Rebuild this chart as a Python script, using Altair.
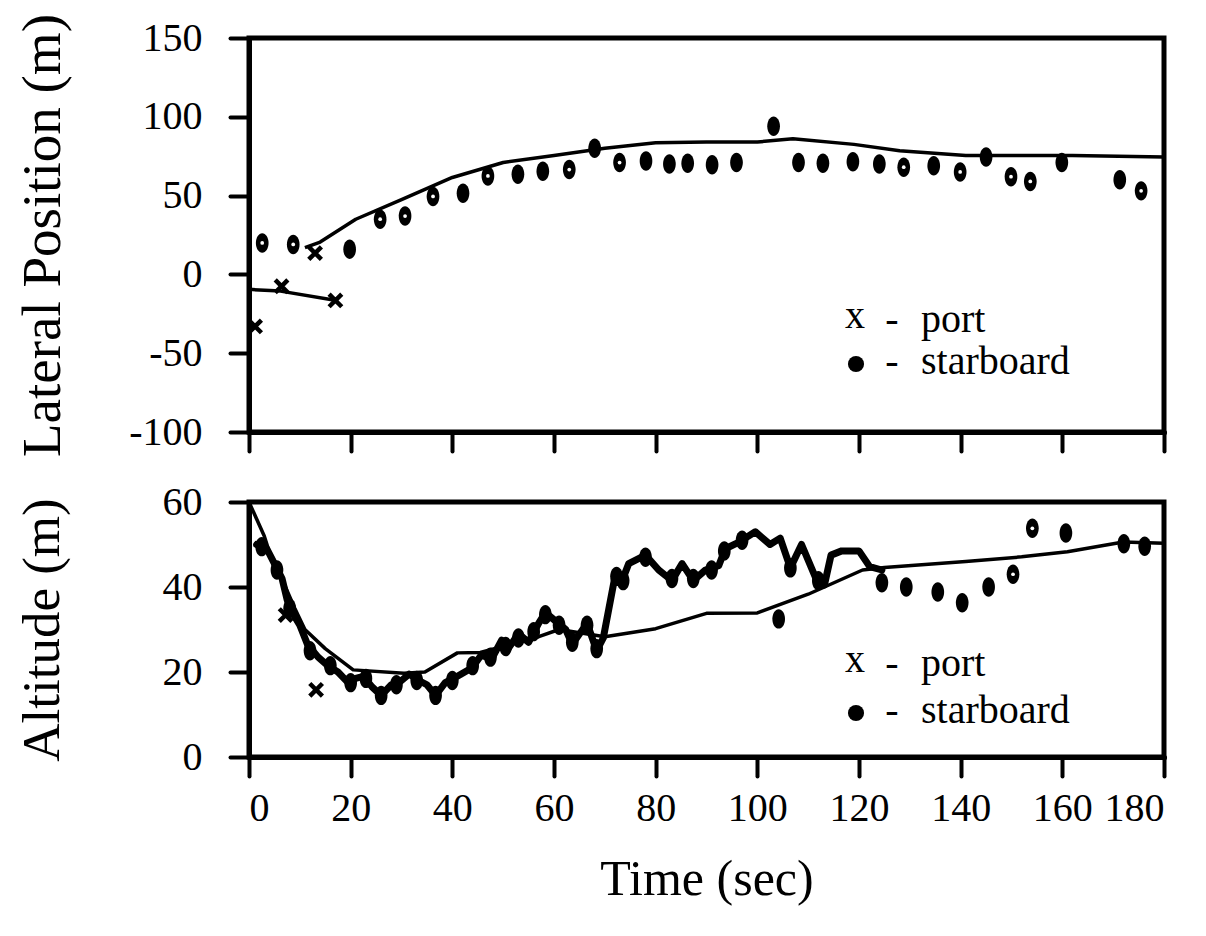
import altair as alt
import pandas as pd

FONT = "Liberation Serif"
INK = "black"

# ---------------- Lateral position (top panel) ----------------
lat_model_t = [11, 14, 21, 30, 40, 50, 60, 70, 80, 90, 100, 107, 119, 128, 141, 148, 162, 180]
lat_model_y = [17, 20.5, 35, 47.5, 61.5, 71, 75.5, 80, 83.5, 84, 84, 86, 82.5, 78.5, 75.5, 75.5, 75.5, 74.5]

lat_port_line_t = [0, 6.2, 17.5]
lat_port_line_y = [-9.5, -10.6, -16.7]

lat_port_t = [1.2, 6.4, 13, 17]
lat_port_y = [-33, -7.5, 13.5, -16.5]

lat_stbd_t = [2.6, 8.7, 19.8, 25.8, 30.7, 36.2, 42.1, 47, 52.9, 57.8, 63, 68, 72.9, 78.1,
              82.7, 86.3, 91.1, 95.9, 103.2, 108.1, 112.9, 118.8, 124, 128.8, 134.7,
              139.9, 145, 149.9, 153.7, 159.9, 171.3, 175.5]
lat_stbd_y = [20, 19, 16, 35, 37, 49.5, 51.5, 62.5, 63.5, 65.5, 66.5, 80, 71, 72,
              70, 70.5, 69.5, 71, 94, 71, 70.5, 71.5, 70, 68, 69,
              65, 74.5, 62, 59, 71, 60, 53]
lat_stbd_open = [1, 1, 0, 1, 1, 1, 0, 1, 0, 0, 1, 0, 1, 0,
                 0, 0, 0, 0, 0, 0, 0, 0, 0, 1, 0,
                 1, 0, 1, 1, 0, 0, 1]

# ---------------- Altitude (bottom panel) ----------------
alt_model_t = [0, 3, 5, 7, 9, 11, 15, 20.5, 30.5, 34.6, 41, 45.5, 57, 61, 70, 80, 90, 100,
               110, 120.7, 125, 141, 152, 161, 172, 180]
alt_model_y = [60, 52, 44.5, 40.5, 35, 30, 25.5, 20.5, 19.7, 20, 24.5, 24.6, 28.3, 30, 28.3,
               30.2, 33.8, 33.9, 38.3, 44, 44.6, 46, 47.1, 48.3, 50.6, 50.3]

alt_track_t = [1.5, 3.5, 5, 6.5, 7.5, 8.5, 10, 11.5, 13.6, 15.5, 17.5, 19.5, 21, 22.5, 24.2,
               26, 28, 29.5, 31.5, 33.4, 35, 36.7, 38.6, 41, 43.9, 45.7, 47.7, 49.7, 51, 53,
               55, 57, 58.3, 60.3, 62.3, 63.6, 66.5, 68.4, 69.7, 72, 73.4, 74.7, 78, 80.6,
               83.2, 85.2, 87.4, 89.8, 92.4, 93.7, 96.3, 99.6, 102.5, 104.5, 106.5, 108.7,
               111.7, 113.2, 114.5, 116.6, 120, 122.1, 124.5]
alt_track_y = [50, 49, 45.5, 42, 37, 34, 31, 26.5, 23.5, 21.5, 20, 17.5, 18.5, 19, 16.5,
               14.5, 17, 17.5, 19.5, 18, 17, 14.5, 17.5, 19, 21, 24, 23, 27.5, 25.5, 29,
               27, 31.5, 34, 32, 30, 26.5, 31.5, 25, 28, 42.5, 41.5, 45.5, 47.5, 44,
               41.5, 45.5, 41.5, 44, 45, 49, 50.5, 53, 50, 51.5, 44.5, 50,
               41.5, 40.5, 47.5, 48.5, 48.5, 44.8, 44]

alt_port_t = [7.2, 13.2]
alt_port_y = [33.4, 15.8]

alt_stbd_t = [2.5, 5.5, 8, 12, 16, 20, 23, 26, 29, 33, 36.7, 40, 44, 47.5, 50.5, 53, 56,
              58.3, 61, 63.6, 66.5, 68.4, 72.3, 73.6, 78, 83.2, 87.4, 91, 93.5, 97,
              104.2, 106.5, 112, 124.5, 129.3, 135.5, 140.3, 145.5, 150.3, 154.1,
              160.7, 172.1, 176.2]
alt_stbd_y = [49.5, 44, 35, 25, 21.5, 17.5, 18.5, 14.5, 17, 18, 14.5, 18, 21.5, 23.5, 26,
              28, 29.5, 33.5, 31, 27, 31, 25.5, 42.5, 41.5, 47, 42, 42, 44, 48.5, 51,
              32.5, 44.5, 41.5, 41, 40, 38.8, 36.3, 40, 43, 53.8,
              52.7, 50.2, 49.6]
alt_stbd_open = [0] * 38 + [1, 1, 0, 0, 0]

# ---------------- shared styling ----------------
ELLIPSE = ("M0,-1C0.359,-1,0.65,-0.552,0.65,0C0.65,0.552,0.359,1,0,1"
           "C-0.359,1,-0.65,0.552,-0.65,0C-0.65,-0.552,-0.359,-1,0,-1Z")
CROSS = "M-1,-1L1,1M1,-1L-1,1"

W = 915
H_TOP = 394
H_BOT = 255

x_ticks = list(range(0, 181, 20))

# hyphen rather than the typographic minus for negative tick labels
HYPHEN_LABELS = "datum.value < 0 ? '-' + abs(datum.value) : '' + datum.value"


def x_enc(show_labels):
    return alt.X(
        "t:Q",
        scale=alt.Scale(domain=[0, 180], nice=False, zero=False),
        axis=alt.Axis(
            values=x_ticks,
            labels=show_labels,
            title="Time (sec)" if show_labels else None,
            labelExpr=HYPHEN_LABELS,
            labelPadding=12,
            titlePadding=26,
        ),
    )


def panel(y_domain, y_ticks, y_title, title_size, height, show_x, parts, legend_y):
    y_enc = alt.Y(
        "y:Q",
        scale=alt.Scale(domain=y_domain, nice=False, zero=False),
        axis=alt.Axis(values=y_ticks, title=y_title, labelExpr=HYPHEN_LABELS,
                      labelPadding=28, titleX=-207, titleBaseline="middle",
                      titleFontSize=title_size),
    )
    layers = []
    for kind, df in parts:
        base = alt.Chart(df)
        if kind == "model":
            layers.append(base.mark_line(color=INK, strokeWidth=3.5, strokeJoin="round")
                          .encode(x=x_enc(show_x), y=y_enc))
        elif kind == "track":
            layers.append(base.mark_line(color=INK, strokeWidth=7, strokeJoin="round",
                                         strokeCap="round")
                          .encode(x=x_enc(show_x), y=y_enc))
        elif kind == "stbd":
            layers.append(base.mark_point(shape=ELLIPSE, filled=True, color=INK,
                                          size=380, opacity=1)
                          .encode(x=x_enc(show_x), y=y_enc))
            layers.append(base.transform_filter("datum.open == 1")
                          .mark_point(shape="circle", filled=True, color="white",
                                      size=14, opacity=1)
                          .encode(x=x_enc(show_x), y=y_enc))
        elif kind == "port":
            layers.append(base.mark_point(shape=CROSS, filled=False, color=INK,
                                          strokeWidth=4.5, size=160, opacity=1)
                          .encode(x=x_enc(show_x), y=y_enc))

    # key, drawn inside the plot area
    one = pd.DataFrame({"k": [0]})
    y1, y2 = legend_y
    txt = dict(font=FONT, fontSize=40, color=INK, baseline="middle")
    layers += [
        alt.Chart(one).mark_text(text="x", align="center", **txt)
        .encode(x=alt.value(606), y=alt.value(y1 - 4)),
        alt.Chart(one).mark_text(text="-", align="center", **txt)
        .encode(x=alt.value(643), y=alt.value(y1)),
        alt.Chart(one).mark_text(text="port", align="left", **txt)
        .encode(x=alt.value(672), y=alt.value(y1)),
        alt.Chart(one).mark_point(shape="circle", filled=True, color=INK, size=260, opacity=1)
        .encode(x=alt.value(607), y=alt.value(y2 + 2)),
        alt.Chart(one).mark_text(text="-", align="center", **txt)
        .encode(x=alt.value(643), y=alt.value(y2)),
        alt.Chart(one).mark_text(text="starboard", align="left", **txt)
        .encode(x=alt.value(672), y=alt.value(y2)),
    ]
    return alt.layer(*layers).properties(width=W, height=height)


def table(**cols):
    return pd.DataFrame(cols)


top = panel(
    [-100, 150], [-100, -50, 0, 50, 100, 150], "Lateral  Position (m)", 55, H_TOP, False,
    [
        ("model", table(t=lat_model_t, y=lat_model_y)),
        ("model", table(t=lat_port_line_t, y=lat_port_line_y)),
        ("stbd", table(t=lat_stbd_t, y=lat_stbd_y, open=lat_stbd_open)),
        ("port", table(t=lat_port_t, y=lat_port_y)),
    ],
    (282, 324),
)

bottom = panel(
    [0, 60], [0, 20, 40, 60], "Altitude (m)", 53, H_BOT, True,
    [
        ("model", table(t=alt_model_t, y=alt_model_y)),
        ("track", table(t=alt_track_t, y=alt_track_y)),
        ("stbd", table(t=alt_stbd_t, y=alt_stbd_y, open=alt_stbd_open)),
        ("port", table(t=alt_port_t, y=alt_port_y)),
    ],
    (162, 209),
)

chart = (
    alt.vconcat(top, bottom, spacing=13)
    .properties(padding={"left": 12, "top": 4, "right": 10, "bottom": 10},
                background="white")
    .configure_view(stroke=INK, strokeWidth=5)
    .configure_axis(
        domainColor=INK, domainWidth=5, domainCap="round",
        tickColor=INK, tickWidth=4, tickSize=19, tickCap="round",
        labelFont=FONT, labelFontSize=40, labelColor=INK,
        titleFont=FONT, titleFontSize=50, titleFontWeight="normal", titleColor=INK,
        grid=False,
    )
)

chart.save("out.html", embed_options={"renderer": "svg", "actions": False})
